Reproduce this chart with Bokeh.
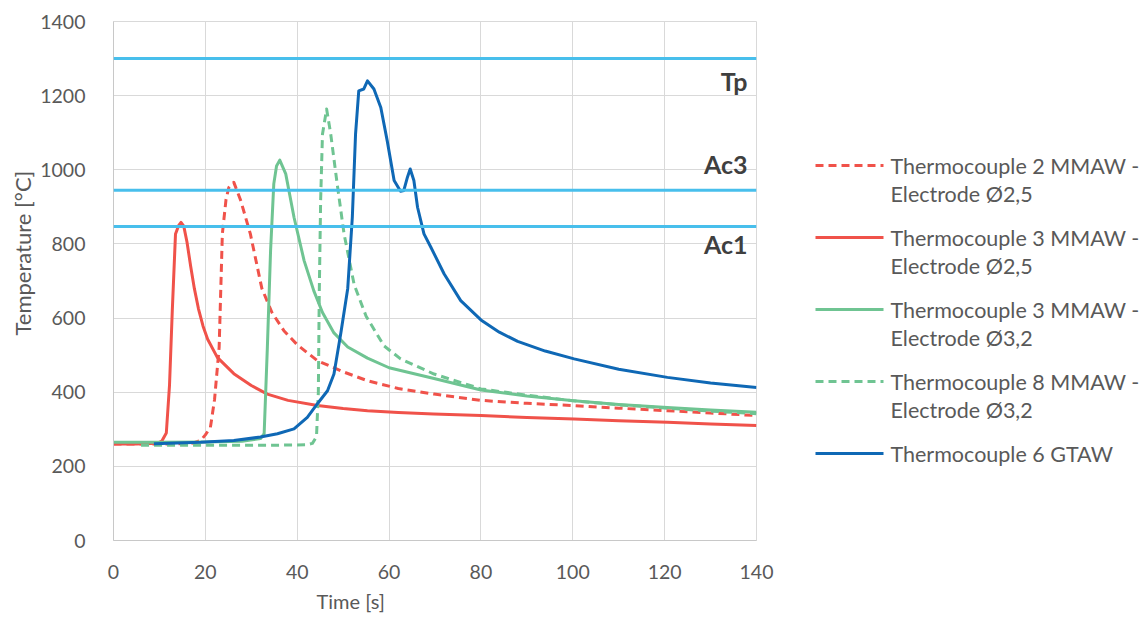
from bokeh.plotting import figure
from bokeh.models import Span, Label, Range1d, Title
from bokeh.layouts import row
from bokeh.core.properties import value
from bokeh.embed import file_html
from bokeh.resources import INLINE

FONT = "Lato"
TXT = "#595959"

# ---- data ----
tc2_25_t = [0, 10, 17, 19, 20, 21.1, 22, 23, 23.7, 24.5, 25.1, 26.2, 27.7, 29.8, 32.3, 34.5, 37.1, 40, 44.4, 50, 55.3, 62, 69.8, 80, 90, 100.2, 110, 120.6, 130, 140]
tc2_25_T = [260, 260, 262, 270, 285, 305, 380, 521, 827, 920, 952, 966, 917, 827, 680, 615, 566, 528, 485, 455, 431, 410, 395, 378, 370, 364, 357, 350, 344, 337]

tc3_25_t = [0, 5, 9.5, 10.5, 11.5, 12.2, 12.8, 13.5, 14.2, 14.7, 15.3, 16.0, 16.8, 17.6, 18.5, 19.5, 20.5, 22.6, 26.2, 30, 33.5, 38, 44.4, 50, 55.3, 62, 69.7, 80, 90, 100.3, 110, 120.6, 130, 140]
tc3_25_T = [260, 260, 262, 268, 290, 420, 620, 827, 850, 858, 848, 805, 740, 680, 625, 578, 543, 494, 450, 418, 395, 378, 364, 356, 350, 345, 341, 337, 332, 328, 323, 319, 314, 310]

tc3_32_t = [0, 10, 20, 28, 32, 32.8, 33.5, 34.2, 34.9, 35.5, 36.2, 37.5, 39.3, 41.5, 43.6, 45.5, 48, 51, 55.3, 60, 69.8, 80, 90, 100.2, 110, 120.6, 130, 140]
tc3_32_T = [265, 265, 266, 268, 275, 288, 521, 782, 962, 1010, 1026, 989, 872, 755, 674, 615, 560, 522, 492, 466, 437, 406, 390, 377, 367, 359, 352, 346]

tc8_32_t = [6, 15, 25, 35, 42, 43.3, 44.2, 44.6, 44.8, 45.1, 45.5, 46.4, 47.3, 48.7, 50.2, 52.4, 55, 58.9, 62.5, 69.8, 80, 90, 100, 110, 120.6, 130, 140]
tc8_32_T = [257, 257, 257, 257, 258, 262, 280, 400, 665, 917, 1096, 1164, 1096, 962, 827, 690, 605, 525, 490, 449, 409, 392, 377, 366, 357, 349, 342]

tc6_t = [8.8, 19, 26.2, 32, 35.7, 39.3, 42.2, 44.4, 46.6, 48, 49.5, 51, 52, 52.7, 53.4, 54.5, 55.3, 56.7, 58.2, 59.6, 61.1, 62.5, 63.2, 64, 64.6, 65.4, 66.2, 67.6, 69.1, 72, 75.6, 80, 84, 88, 94, 100.3, 110, 120.6, 130, 140]
tc6_T = [261, 265, 270, 279, 288, 301, 332, 369, 404, 449, 560, 680, 872, 1096, 1213, 1218, 1240, 1218, 1168, 1078, 971, 942, 944, 980, 1002, 971, 899, 827, 791, 719, 647, 595, 562, 537, 511, 490, 462, 440, 425, 413]

series_labels = [
    ["Thermocouple 2 MMAW -", "Electrode \u00d82,5"],
    ["Thermocouple 3 MMAW -", "Electrode \u00d82,5"],
    ["Thermocouple 3 MMAW -", "Electrode \u00d83,2"],
    ["Thermocouple 8 MMAW -", "Electrode \u00d83,2"],
    ["Thermocouple 6 GTAW"],
]
series_colors = ["#f0524a", "#f0524a", "#6fc492", "#6fc492", "#0f68b5"]
series_dash = ["8 5", "solid", "solid", "8 5", "solid"]
series_data = [(tc2_25_t, tc2_25_T), (tc3_25_t, tc3_25_T), (tc3_32_t, tc3_32_T),
               (tc8_32_t, tc8_32_T), (tc6_t, tc6_T)]

thresholds = [1300, 945, 847]
threshold_names = ["Tp", "Ac3", "Ac1"]
threshold_label_offsets = [-22, 26, -17]

x_ticks = [0, 20, 40, 60, 80, 100, 120, 140]
y_ticks = [0, 200, 400, 600, 800, 1000, 1200, 1400]

TOP, BOTTOM_BORDER, H = 21, 77, 617

# ---- main figure ----
p = figure(width=783, height=H, x_range=Range1d(0, 140), y_range=Range1d(0, 1400),
           output_backend="svg", toolbar_location=None,
           min_border_left=113, min_border_right=27, min_border_top=TOP,
           min_border_bottom=BOTTOM_BORDER)
p.background_fill_color = "white"
p.border_fill_color = "white"
p.outline_line_color = "#d9d9d9"
p.xgrid.grid_line_color = "#d9d9d9"
p.ygrid.grid_line_color = "#d9d9d9"
p.xaxis.ticker = x_ticks
p.yaxis.ticker = y_ticks
for ax in (p.xaxis[0], p.yaxis[0]):
    ax.axis_line_color = "#c8c8c8"
    ax.axis_line_width = 1
    ax.major_tick_line_color = None
    ax.minor_tick_line_color = None
    ax.major_label_text_font = FONT
    ax.major_label_text_font_size = "19.5px"
    ax.major_label_text_color = TXT
p.xaxis.major_label_standoff = 18
p.yaxis.major_label_standoff = 22

p.add_layout(Title(text="Temperature [\u00b0C]", align="left", offset=205, standoff=4,
                   text_font=FONT, text_font_size="22px", text_font_style="normal",
                   text_color=TXT), "left")
p.add_layout(Title(text="Time [s]", align="left", offset=203, standoff=10,
                   text_font=FONT, text_font_size="20px", text_font_style="normal",
                   text_color=TXT), "below")

for thr, name, off in zip(thresholds, threshold_names, threshold_label_offsets):
    p.add_layout(Span(location=thr, dimension="width", line_color="#48bfec", line_width=3))
    p.add_layout(Label(x=140, y=thr, x_offset=-9, y_offset=off, text=name,
                       text_align="right", text_baseline="middle",
                       text_font=FONT, text_font_size="25px", text_font_style="bold",
                       text_color="#3f3f3f"))

for (t, T), c, d in zip(series_data, series_colors, series_dash):
    p.line(t, T, line_color=c, line_width=3, line_dash=d, line_join="round")

# ---- legend figure (its frame is aligned with the main frame by the row) ----
lg = figure(width=361, height=H, x_range=Range1d(0, 361),
            y_range=Range1d(H - BOTTOM_BORDER, TOP),
            output_backend="svg", toolbar_location=None, min_border=0)
lg.axis.visible = False
lg.grid.visible = False
lg.outline_line_color = None
row_top, row_pitch, line_gap = 165, 72, 28
for i, (lab, c, d) in enumerate(zip(series_labels, series_colors, series_dash)):
    y0 = row_top + i * row_pitch
    lg.line([32, 100], [y0, y0], line_color=c, line_width=3, line_dash=d)
    for j, txt in enumerate(lab):
        lg.text([107], [y0 + j * line_gap], text=[txt], text_font=value(FONT),
                text_font_size="21.5px", text_color=TXT, text_baseline="middle", text_align="left")

layout = row(p, lg)
open("out.html", "w").write(file_html(layout, INLINE))
